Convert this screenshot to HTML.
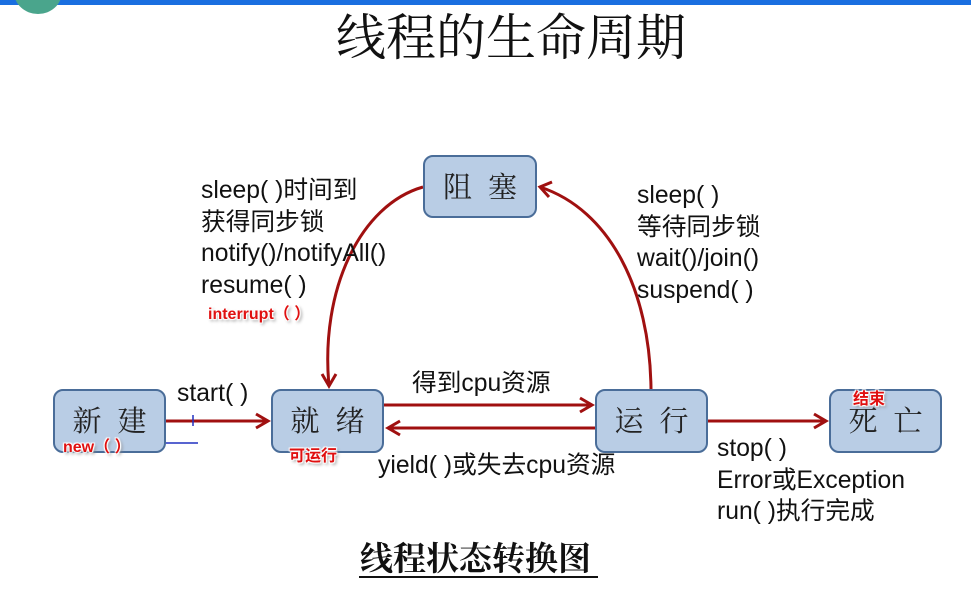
<!DOCTYPE html>
<html><head><meta charset="utf-8"><style>
body{margin:0;width:971px;height:594px;background:#fff;overflow:hidden;position:relative;font-family:"Liberation Sans","Noto Sans CJK SC",sans-serif}
.t{position:absolute;white-space:nowrap;color:#111}
.box{position:absolute;width:113px;height:64px;background:#b9cde5;border:2px solid #4a6d99;border-radius:10px;box-sizing:border-box;font-family:"Noto Serif CJK SC",serif;font-size:29px;color:#222;text-align:center;line-height:58px;letter-spacing:16px;text-indent:16px}
.red{position:absolute;color:#e01010;font-weight:bold;font-size:16px;white-space:nowrap;text-shadow:1px 1px 1px #fff,-1px -1px 1px #fff,1px -1px 1px #fff,-1px 1px 1px #fff,2px 2px 3px #888}
.lbl{font-size:24.7px;line-height:31.5px}
</style></head><body>
<div style="position:absolute;left:0;top:0;width:971px;height:5px;background:#1a6fe0"></div>
<div style="position:absolute;left:14px;top:-30px;width:48px;height:44px;border-radius:50%;background:#4aa58c"></div>
<div class="t" style="left:336px;top:2px;font-family:'Noto Serif CJK SC',serif;font-size:50px;line-height:64px">线程的生命周期</div>

<svg width="971" height="594" style="position:absolute;left:0;top:0">
<g stroke="#a01010" stroke-width="3" fill="none">
<line x1="166" y1="421" x2="268" y2="421"/><polyline points="256,414 268,421 256,428"/>
<line x1="384" y1="405" x2="592" y2="405"/><polyline points="580,398 592,405 580,412"/>
<line x1="595" y1="428" x2="388" y2="428"/><polyline points="400,421 388,428 400,435"/>
<line x1="708" y1="421" x2="826" y2="421"/><polyline points="814,414 826,421 814,428"/>
<path d="M423,187 C360,205 320,290 329,386"/><polyline points="322,374 329,386 336,374"/>
<path d="M651,389 C650,290 610,210 540,187"/><polyline points="552,182 540,187 549,197"/>
</g>
<line x1="158" y1="443" x2="198" y2="443" stroke="#2030c0" stroke-width="1.5"/>
<line x1="193" y1="415" x2="193" y2="426" stroke="#2030c0" stroke-width="1.5"/>
<line x1="359" y1="577" x2="598" y2="577" stroke="#111" stroke-width="2"/>
</svg>

<div class="box" style="left:53px;top:389px">新建</div>
<div class="box" style="left:271px;top:389px">就绪</div>
<div class="box" style="left:595px;top:389px">运行</div>
<div class="box" style="left:829px;top:389px">死亡</div>
<div class="box" style="left:423px;top:155px;width:114px;height:63px">阻塞</div>

<div class="t lbl" style="left:201px;top:175px">sleep( )时间到<br>获得同步锁<br>notify()/notifyAll()<br>resume( )</div>
<div class="red" style="left:208px;top:300px">interrupt（ ）</div>
<div class="t lbl" style="left:637px;top:180px">sleep( )<br>等待同步锁<br>wait()/join()<br>suspend( )</div>
<div class="t lbl" style="left:177px;top:378px">start( )</div>
<div class="t lbl" style="left:412px;top:368px">得到cpu资源</div>
<div class="t lbl" style="left:378px;top:450px">yield( )或失去cpu资源</div>
<div class="t lbl" style="left:717px;top:433px">stop( )<br>Error或Exception<br>run( )执行完成</div>
<div class="red" style="left:63px;top:433px">new（ ）</div>
<div class="red" style="left:289px;top:442px">可运行</div>
<div class="red" style="left:853px;top:385px">结束</div>
<div class="t" style="left:360px;top:537px;font-family:'Noto Serif CJK SC',serif;font-weight:bold;font-size:33px;line-height:40px">线程状态转换图</div>
</body></html>
